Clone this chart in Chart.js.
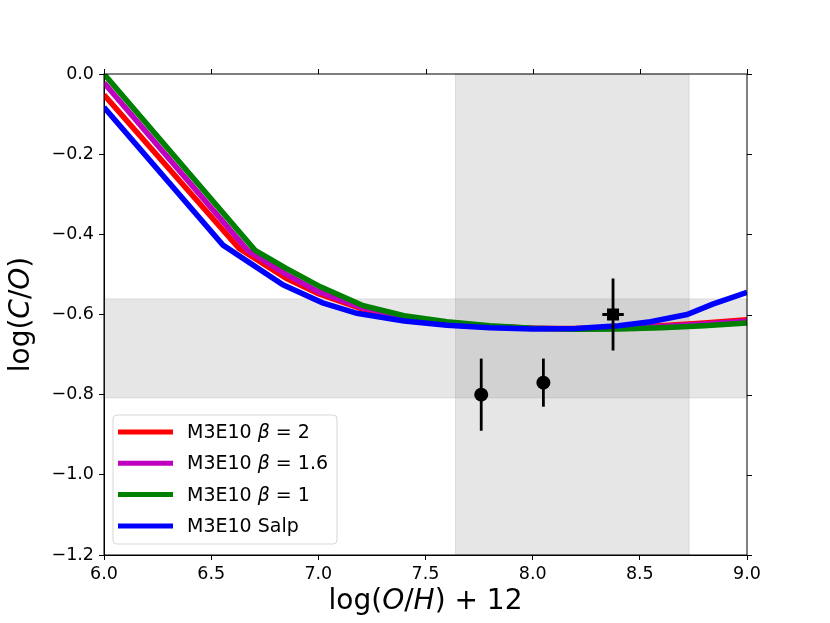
<!DOCTYPE html>
<html>
<head>
<meta charset="utf-8">
<script src="https://cdn.jsdelivr.net/npm/chart.js@4.4.1/dist/chart.umd.min.js"></script>
<style>
  html, body { margin: 0; padding: 0; background: #fff; }
  #wrap { width: 830px; height: 623px; }
</style>
</head>
<body>
<div id="wrap"><canvas id="myChart" width="830" height="623"></canvas></div>
<script>
'use strict';

// model tracks, log(O/H)+12 vs log(C/O)
const redX = [6.0, 6.63, 6.85, 7.0, 7.2, 7.4, 7.6, 7.8, 8.0, 8.2, 8.4, 8.6, 8.8, 9.0];
const redY = [-0.052, -0.435, -0.51, -0.548, -0.585, -0.607, -0.622, -0.630, -0.634, -0.635, -0.633, -0.628, -0.621, -0.613];

const magX = [6.0, 6.67, 6.85, 7.0, 7.2, 7.4, 7.6, 7.8, 8.0, 8.2, 8.4, 8.6, 8.8, 9.0];
const magY = [-0.022, -0.44, -0.50, -0.543, -0.582, -0.606, -0.621, -0.630, -0.634, -0.636, -0.634, -0.630, -0.624, -0.617];

const greenX = [6.0, 6.705, 6.85, 7.01, 7.21, 7.4, 7.6, 7.8, 8.0, 8.2, 8.4, 8.6, 8.8, 9.0];
const greenY = [0.0, -0.44, -0.485, -0.531, -0.578, -0.603, -0.618, -0.628, -0.634, -0.637, -0.636, -0.633, -0.628, -0.621];

const blueX = [6.0, 6.555, 6.835, 7.02, 7.18, 7.4, 7.6, 7.8, 8.0, 8.2, 8.4, 8.55, 8.72, 8.84, 9.0];
const blueY = [-0.083, -0.427, -0.526, -0.571, -0.597, -0.616, -0.627, -0.633, -0.636, -0.635, -0.628, -0.618, -0.600, -0.574, -0.545];

// observed points
const obsX = [7.76, 8.05, 8.375];
const obsY = [-0.80, -0.77, -0.60];
const obsYErr = [0.09, 0.06, 0.09];
const obsXErr = [0, 0, 0.05];
const obsStyle = ['circle', 'circle', 'rect'];

// shaded ranges
const ohBand = [7.64, 8.73];
const coBand = [-0.808, -0.561];

const xTicks = [6.0, 6.5, 7.0, 7.5, 8.0, 8.5, 9.0];
const yTicks = [0.0, -0.2, -0.4, -0.6, -0.8, -1.0, -1.2];

const seriesLabels = ['M3E10 β = 2', 'M3E10 β = 1.6', 'M3E10 β = 1', 'M3E10 Salp'];
const seriesColors = ['#ff0000', '#bf00bf', '#008000', '#0000ff'];

const toPoints = function(xs, ys) {
    return xs.map(function(x, i) { return {x: x, y: ys[i]}; });
};

const fmt = function(v) {
    return v.toFixed(1).replace('-', '\u2212');
};

const FONT = '"DejaVu Sans", sans-serif';

/*mixed upright / italic text*/
function drawRich(ctx, parts, size, cx, cy, align) {
    let total = 0;
    const widths = parts.map(function(p) {
        ctx.font = (p.i ? 'italic ' : '') + size + 'px ' + FONT;
        const w = ctx.measureText(p.t).width;
        total += w;
        return w;
    });
    let x = align === 'left' ? cx : cx - total / 2;
    ctx.textBaseline = 'middle';
    ctx.textAlign = 'left';
    parts.forEach(function(p, i) {
        ctx.font = (p.i ? 'italic ' : '') + size + 'px ' + FONT;
        ctx.fillText(p.t, x, cy);
        x += widths[i];
    });
}

const decorPlugin = {
    id: 'decor',
    beforeDatasetsDraw(chart) {
        const ctx = chart.ctx;
        const xs = chart.scales.x, ys = chart.scales.y;
        const a = chart.chartArea;
        ctx.save();
        ctx.fillStyle = 'rgba(128,128,128,0.2)';
        ctx.strokeStyle = 'rgba(128,128,128,0.2)';
        ctx.lineWidth = 1;
        // vertical band
        let x0 = xs.getPixelForValue(ohBand[0]), x1 = xs.getPixelForValue(ohBand[1]);
        ctx.fillRect(x0, a.top, x1 - x0, a.bottom - a.top);
        ctx.strokeRect(x0, a.top, x1 - x0, a.bottom - a.top);
        // horizontal band
        let y0 = ys.getPixelForValue(coBand[1]), y1 = ys.getPixelForValue(coBand[0]);
        ctx.fillRect(a.left, y0, a.right - a.left, y1 - y0);
        ctx.strokeRect(a.left, y0, a.right - a.left, y1 - y0);
        ctx.restore();
    },
    beforeDatasetDraw(chart, args) {
        if (args.index !== 4) return;
        const ctx = chart.ctx;
        const xs = chart.scales.x, ys = chart.scales.y;
        ctx.save();
        ctx.strokeStyle = '#000';
        ctx.lineWidth = 2.8;
        for (let i = 0; i < obsX.length; i++) {
            const px = xs.getPixelForValue(obsX[i]);
            const py = ys.getPixelForValue(obsY[i]);
            ctx.beginPath();
            ctx.moveTo(px, ys.getPixelForValue(obsY[i] + obsYErr[i]));
            ctx.lineTo(px, ys.getPixelForValue(obsY[i] - obsYErr[i]));
            if (obsXErr[i] > 0) {
                ctx.moveTo(xs.getPixelForValue(obsX[i] - obsXErr[i]), py);
                ctx.lineTo(xs.getPixelForValue(obsX[i] + obsXErr[i]), py);
            }
            ctx.stroke();
        }
        ctx.restore();
    },
    afterDraw(chart) {
        const ctx = chart.ctx;
        const a = chart.chartArea;
        const xs = chart.scales.x, ys = chart.scales.y;
        ctx.save();
        // frame + top/right ticks
        ctx.strokeStyle = '#000';
        ctx.lineWidth = 1;
        ctx.strokeRect(a.left, a.top, a.right - a.left, a.bottom - a.top);
        ctx.beginPath();
        xTicks.forEach(function(v) {
            const px = Math.round(xs.getPixelForValue(v)) + 0.5;
            ctx.moveTo(px, a.top);
            ctx.lineTo(px, a.top - 5);
        });
        yTicks.forEach(function(v) {
            const py = Math.round(ys.getPixelForValue(v)) + 0.5;
            ctx.moveTo(a.right, py);
            ctx.lineTo(a.right + 5, py);
        });
        ctx.stroke();

        // legend
        const lx = 113, ly = 415, lw = 224, lh = 129, r = 4;
        ctx.beginPath();
        ctx.moveTo(lx + r, ly);
        ctx.arcTo(lx + lw, ly, lx + lw, ly + lh, r);
        ctx.arcTo(lx + lw, ly + lh, lx, ly + lh, r);
        ctx.arcTo(lx, ly + lh, lx, ly, r);
        ctx.arcTo(lx, ly, lx + lw, ly, r);
        ctx.closePath();
        ctx.fillStyle = 'rgba(255,255,255,0.8)';
        ctx.fill();
        ctx.strokeStyle = 'rgba(204,204,204,0.8)';
        ctx.stroke();
        ctx.fillStyle = '#000';
        seriesLabels.forEach(function(lab, i) {
            const yy = 432 + i * 31.3;
            ctx.strokeStyle = seriesColors[i];
            ctx.lineWidth = 5;
            ctx.beginPath();
            ctx.moveTo(118, yy);
            ctx.lineTo(173, yy);
            ctx.stroke();
            let parts;
            if (lab.indexOf('β') >= 0) {
                const bits = lab.split('β');
                parts = [{t: bits[0]}, {t: 'β', i: true}, {t: bits[1]}];
            } else {
                parts = [{t: lab}];
            }
            ctx.fillStyle = '#000';
            drawRich(ctx, parts, 19, 187, yy + 1, 'left');
        });

        // axis titles
        ctx.fillStyle = '#000';
        drawRich(ctx, [{t: 'log('}, {t: 'O', i: true}, {t: '/'}, {t: 'H', i: true}, {t: ') + 12'}],
            28, (a.left + a.right) / 2, 602);
        ctx.translate(22, (a.top + a.bottom) / 2);
        ctx.rotate(-Math.PI / 2);
        drawRich(ctx, [{t: 'log('}, {t: 'C', i: true}, {t: '/'}, {t: 'O', i: true}, {t: ')'}],
            28, 0, 0);
        ctx.restore();
    }
};

const lineSet = function(label, xs, ys, color, order) {
    return {
        type: 'line',
        label: label,
        data: toPoints(xs, ys),
        borderColor: color,
        backgroundColor: color,
        borderWidth: 5.5,
        pointRadius: 0,
        tension: 0,
        fill: false,
        order: order
    };
};

const ctx = document.getElementById('myChart').getContext('2d');

const chart = new Chart(ctx, {
    type: 'scatter',
    data: {
        datasets: [
            lineSet(seriesLabels[0], redX, redY, seriesColors[0], 4),
            lineSet(seriesLabels[1], magX, magY, seriesColors[1], 3),
            lineSet(seriesLabels[2], greenX, greenY, seriesColors[2], 2),
            lineSet(seriesLabels[3], blueX, blueY, seriesColors[3], 1),
            {
                type: 'scatter',
                label: 'obs',
                data: toPoints(obsX, obsY),
                pointStyle: obsStyle,
                pointRadius: [7, 7, 8.5],
                backgroundColor: '#000',
                borderColor: '#000',
                borderWidth: 0,
                order: 0
            }
        ]
    },
    options: {
        responsive: false,
        animation: false,
        layout: { padding: { top: 74, right: 83, left: 0, bottom: 0 } },
        plugins: {
            legend: { display: false },
            tooltip: { enabled: false }
        },
        scales: {
            x: {
                type: 'linear',
                min: 6, max: 9,
                afterFit: function(s) { s.height = 68; },
                afterBuildTicks: function(s) { s.ticks = xTicks.map(function(v) { return {value: v}; }); },
                ticks: {
                    color: '#000',
                    padding: 4,
                    font: { family: FONT, size: 17.5 },
                    callback: function(v) { return fmt(v); },
                    maxRotation: 0
                },
                grid: { drawOnChartArea: false, drawTicks: true, tickLength: 5, color: '#000' },
                border: { display: true, color: '#000', width: 1 }
            },
            y: {
                type: 'linear',
                min: -1.2, max: 0,
                afterFit: function(s) { s.width = 104; },
                afterBuildTicks: function(s) { s.ticks = yTicks.map(function(v) { return {value: v}; }); },
                ticks: {
                    color: '#000',
                    padding: 5,
                    font: { family: FONT, size: 17.5 },
                    callback: function(v) { return fmt(v); }
                },
                grid: { drawOnChartArea: false, drawTicks: true, tickLength: 5, color: '#000' },
                border: { display: true, color: '#000', width: 1 }
            }
        }
    },
    plugins: [decorPlugin]
});
</script>
</body>
</html>
